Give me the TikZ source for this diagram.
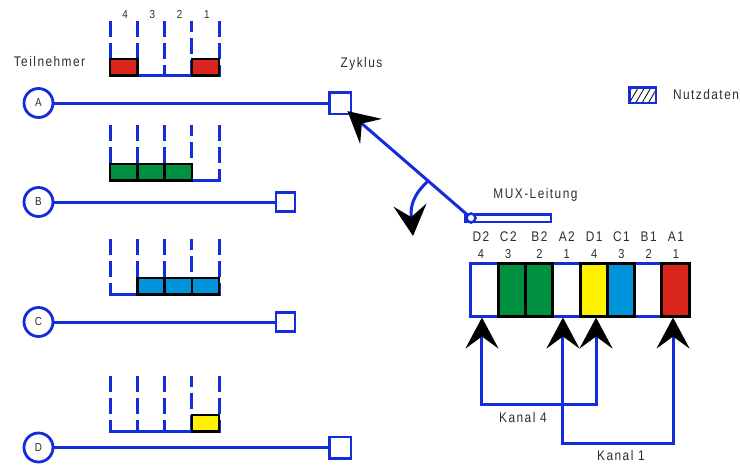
\documentclass[tikz,border=0pt]{standalone}
\usepackage{fontspec}
\setmainfont{Liberation Sans}[LetterSpace=10.4,FakeStretch=0.85]
\usetikzlibrary{arrows.meta,patterns.meta,calc}
\definecolor{bl}{RGB}{20,45,220}
\definecolor{rd}{RGB}{218,37,29}
\definecolor{gn}{RGB}{0,145,64}
\definecolor{cy}{RGB}{0,149,218}
\definecolor{ye}{RGB}{255,242,0}
\definecolor{tx}{RGB}{45,45,45}
\tikzset{
  x=1pt, y=-1pt,
  lbl/.style={font=\fontsize{14}{16}\selectfont, text=tx, inner sep=0pt, anchor=base},
  smalllbl/.style={lbl, font=\fontsize{11.6}{14}\selectfont},
  numlbl/.style={lbl, font=\fontsize{13}{15}\selectfont},
  wire/.style={draw=bl, line width=3pt},
  dashv/.style={draw=bl, line width=3pt, dash pattern=on 16pt off 6pt},
  subj/.style={circle, draw=bl, line width=2.8pt, fill=white, minimum size=29pt, inner sep=0pt,
     font=\fontsize{11.6}{13}\selectfont, text=tx},
  portbig/.style={draw=bl, line width=2.5pt, fill=white, minimum size=21.5pt, inner sep=0pt},
  portsmall/.style={draw=bl, line width=2.5pt, fill=white, minimum size=19pt, inner sep=0pt},
  slotbox/.style={draw=black, line width=2.5pt, minimum width=27.3pt, minimum height=16.5pt, inner sep=0pt},
  cell/.style={line width=3pt, minimum width=27.3pt, minimum height=53pt, inner sep=0pt},
  ccell/.style={cell, draw=black},
  bigtip/.tip={Stealth[length=31pt, width=33pt, inset=12pt, black]},
}
\begin{document}
\begin{tikzpicture}
\path[use as bounding box] (0,0) rectangle (740,467);

% ---- subscriber groups: dashed slot walls and bottom lines
\foreach \top/\bot in {21/75.5, 125/180.5, 239/294.5, 376/431.5}{
  \foreach \k in {0,1,2,4}{
    \draw[dashv] (110+27.3*\k,\top) -- (110+27.3*\k,\bot);
  }
  \draw[dashv, dash phase=5pt] (110+27.3*3,\top) -- (110+27.3*3,\bot);
  \draw[wire, line cap=rect] (110,\bot) -- (219.2,\bot);
}

% slot numbers
\node[smalllbl] (n4) at (125,18.3) {4};
\node[smalllbl] (n3) at (152.3,18.3) {3};
\node[smalllbl] (n2) at (179.6,18.3) {2};
\node[smalllbl] (n1) at (206.9,18.3) {1};

% data boxes
\node[slotbox, fill=rd] (A4) at (123.65,67.25) {};
\node[slotbox, fill=rd] (A1) at (205.55,67.25) {};
\node[slotbox, fill=gn] (B4) at (123.65,172.25) {};
\node[slotbox, fill=gn] (B3) at (150.95,172.25) {};
\node[slotbox, fill=gn] (B2) at (178.25,172.25) {};
\node[slotbox, fill=cy] (C3) at (150.95,286.25) {};
\node[slotbox, fill=cy] (C2) at (178.25,286.25) {};
\node[slotbox, fill=cy] (C1) at (205.55,286.25) {};
\node[slotbox, fill=ye] (D1) at (205.55,423.25) {};

% subscribers and lines
\node[subj] (sA) at (38.5,103) {A};
\node[subj] (sB) at (38.5,202) {B};
\node[subj] (sC) at (38.5,322) {C};
\node[subj] (sD) at (38.5,447.5) {D};
\node[portbig] (zA) at (340,103) {};
\node[portsmall] (zB) at (285.5,202) {};
\node[portsmall] (zC) at (285.5,322) {};
\node[portbig] (zD) at (340,447.5) {};
\draw[wire] (sA) -- (zA);
\draw[wire] (sB) -- (zB);
\draw[wire] (sC) -- (zC);
\draw[wire] (sD) -- (zD);

\node[lbl] (tn) at (49.5,66.7) {Teilnehmer};
\node[lbl] (zy) at (361.5,67) {Zyklus};

% legend
\node[draw=bl, line width=2.5pt, minimum width=26.5pt, minimum height=15.5pt, inner sep=0pt,
      pattern={Lines[angle=60,distance=5.5pt,line width=0.8pt]}, pattern color=black] (leg) at (642.5,95) {};
\node[lbl] (legt) at (706,99) {Nutzdaten};

% MUX line
\node[draw=bl, line width=2.5pt, fill=white, minimum width=85.5pt, minimum height=7.5pt, inner sep=0pt] (tube) at (508,218) {};
\node[circle, draw=bl, line width=2.5pt, fill=white, minimum size=9pt, inner sep=0pt] (muxc) at (471,218) {};
\node[lbl] (muxt) at (535.5,198.3) {MUX-Leitung};
\draw[wire, -{bigtip}, shorten >=-6pt] (muxc) -- (zA.south east);
\coordinate (bend) at ($(muxc)!0.36!(zA.south east)$);
\draw[wire, -{bigtip}] (bend) .. controls (414,194) and (410,205) .. (413,236);

% frame
\node[draw=bl, line width=3pt, minimum width=218.4pt, minimum height=53pt, inner sep=0pt] (frame) at (580,289.5) {};
\node[cell] (cD2) at (484.45,289.5) {};
\node[ccell, fill=gn] (cC2) at (511.75,289.5) {};
\node[ccell, fill=gn] (cB2) at (539.05,289.5) {};
\node[cell] (cA2) at (566.35,289.5) {};
\node[ccell, fill=ye] (cD1) at (593.65,289.5) {};
\node[ccell, fill=cy] (cC1) at (620.95,289.5) {};
\node[cell] (cB1) at (648.25,289.5) {};
\node[ccell, fill=rd] (cA1) at (675.55,289.5) {};

% cell labels
\foreach \nm/\xx/\num in {D2/481/4, C2/508.3/3, B2/539.5/2, A2/566.8/1, D1/594.1/4, C1/621.4/3, B1/648.7/2, A1/676/1}{
  \node[lbl] (l\nm) at (\xx,241.7) {\nm};
  \node[numlbl] (m\nm) at (\xx,258.3) {\num};
}

% channels
\draw[wire, {bigtip}-{bigtip}] ($(cD2.south)+(-2.5,0)$) -- ($(cD2.south)+(-2.5,87)$) -| ($(cD1.south)+(2.4,0)$);
\draw[wire, {bigtip}-{bigtip}] ($(cA2.south)+(-3.4,0)$) -- ($(cA2.south)+(-3.4,126)$) -| ($(cA1.south)+(-2.5,0)$);
\node[lbl] (k4) at (523,422.3) {Kanal 4};
\node[lbl] (k1) at (621,460) {Kanal 1};
\end{tikzpicture}
\end{document}
